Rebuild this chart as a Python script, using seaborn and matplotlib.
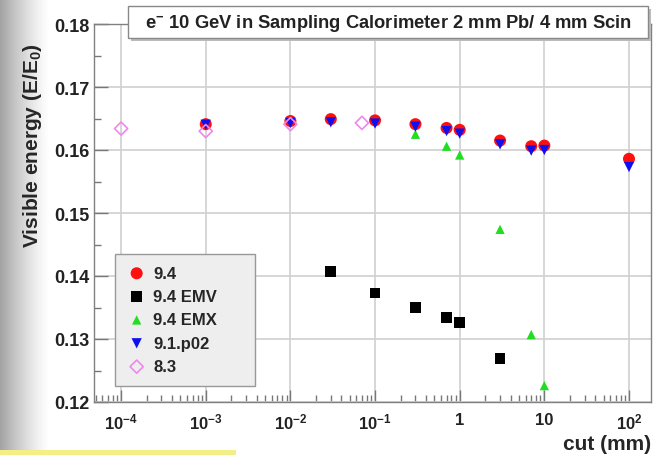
import numpy as np
import pandas as pd
import seaborn as sns
import matplotlib.pyplot as plt
from matplotlib.patches import Rectangle
from matplotlib.ticker import FixedLocator, FixedFormatter, LogLocator, NullFormatter, MultipleLocator

# --- data ---
cut_94 = [1e-3, 1e-2, 0.03, 0.1, 0.3, 0.7, 1, 3, 7, 10, 100]
e_94 = [0.1641, 0.1646, 0.1649, 0.1647, 0.1641, 0.1635, 0.1632, 0.1615, 0.1606, 0.1607, 0.1586]

cut_emv = [0.03, 0.1, 0.3, 0.7, 1, 3]
e_emv = [0.1407, 0.1373, 0.1350, 0.1334, 0.1326, 0.1269]

cut_emx = [0.3, 0.7, 1, 3, 7, 10]
e_emx = [0.1625, 0.1606, 0.1592, 0.1474, 0.1307, 0.1226]

cut_p02 = [1e-3, 1e-2, 0.03, 0.1, 0.3, 0.7, 1, 3, 7, 10, 100]
e_p02 = [0.1640, 0.1643, 0.1644, 0.1642, 0.1637, 0.1630, 0.1626, 0.1609, 0.1599, 0.1600, 0.1573]

cut_83 = [1e-4, 1e-3, 1e-2, 0.07]
e_83 = [0.1634, 0.1630, 0.1641, 0.1643]

series_names = ['9.4', '9.4 EMV', '9.4 EMX', '9.1.p02', '8.3']
x_ticks = [1e-4, 1e-3, 1e-2, 1e-1, 1, 10, 100]
x_tick_labels = [r'$\mathbf{10^{-4}}$', r'$\mathbf{10^{-3}}$', r'$\mathbf{10^{-2}}$',
                 r'$\mathbf{10^{-1}}$', '1', '10', r'$\mathbf{10^{2}}$']
title_text = r'e$^{\mathbf{-}}$ 10 GeV in Sampling Calorimeter 2 mm Pb/ 4 mm Scin'

sns.set_theme(style='whitegrid')
plt.rcParams['font.family'] = ['Liberation Sans', 'DejaVu Sans']
plt.rcParams['font.weight'] = 'bold'
plt.rcParams['mathtext.fontset'] = 'custom'
plt.rcParams['mathtext.rm'] = 'Liberation Sans:bold'
plt.rcParams['mathtext.bf'] = 'Liberation Sans:bold'
plt.rcParams['mathtext.it'] = 'Liberation Sans:bold'

W, H = 661, 456
fig = plt.figure(figsize=(W / 100, H / 100), dpi=100)
fig.patch.set_facecolor('white')

# screenshot background: grey fade on the left, yellow strip bottom-left
bg = fig.add_axes([0, 0, 1, 1], zorder=-10)
xs = np.arange(W)
fade = np.clip(1 - xs / 50.0, 0, 1) ** 1.3
img = 1 - 0.36 * fade
bg.imshow(np.tile(img, (H, 1)), cmap='gray', vmin=0, vmax=1, aspect='auto',
          extent=[0, 1, 0, 1])
bg.set_xlim(0, 1)
bg.set_ylim(0, 1)
bg.add_patch(Rectangle((0, 0), 236 / W, 5 / H, facecolor='#f3ef86', edgecolor='none'))
bg.axis('off')

ax = fig.add_axes([94 / W, 1 - 403 / H, (651 - 94) / W, (403 - 25) / H])
ax.set_facecolor('white')

df_94 = pd.DataFrame({'cut': cut_94, 'energy': e_94})
df_emv = pd.DataFrame({'cut': cut_emv, 'energy': e_emv})
df_emx = pd.DataFrame({'cut': cut_emx, 'energy': e_emx})
df_p02 = pd.DataFrame({'cut': cut_p02, 'energy': e_p02})
df_83 = pd.DataFrame({'cut': cut_83, 'energy': e_83})

sns.scatterplot(data=df_94, x='cut', y='energy', ax=ax, marker='o', s=75,
                color='#ff1010', edgecolor='none', label=series_names[0], zorder=3)
sns.scatterplot(data=df_emv, x='cut', y='energy', ax=ax, marker='s', s=60,
                color='black', edgecolor='none', label=series_names[1], zorder=3)
sns.scatterplot(data=df_emx, x='cut', y='energy', ax=ax, marker='^', s=45,
                color='#22dd22', edgecolor='none', label=series_names[2], zorder=3)
sns.scatterplot(data=df_p02, x='cut', y='energy', ax=ax, marker='v', s=55,
                color='#1010ee', edgecolor='none', label=series_names[3], zorder=3)
sns.scatterplot(data=df_83, x='cut', y='energy', ax=ax, marker='D', s=45,
                facecolor='none', edgecolor='#ee88ee', linewidth=1.2,
                label=series_names[4], zorder=3)

ax.set_xscale('log')
ax.set_xlim(10 ** -4.32, 10 ** 2.26)
ax.set_ylim(0.12, 0.18)

ax.xaxis.set_major_locator(FixedLocator(x_ticks))
ax.xaxis.set_major_formatter(FixedFormatter(x_tick_labels))
ax.xaxis.set_minor_locator(LogLocator(base=10, subs=np.arange(2, 10), numticks=20))
ax.xaxis.set_minor_formatter(NullFormatter())
ax.yaxis.set_major_locator(MultipleLocator(0.01))
ax.yaxis.set_minor_locator(MultipleLocator(0.005))
ax.yaxis.set_major_formatter(plt.FuncFormatter(lambda v, p: f'{v:.2f}'))

ax.tick_params(axis='both', which='both', direction='in', color='#777777',
               labelcolor='#222222')
ax.tick_params(axis='x', which='major', length=9, width=1, pad=7, labelsize=12,
               bottom=True, top=False)
ax.tick_params(axis='x', which='minor', length=5, width=1, bottom=True, top=False)
ax.tick_params(axis='y', which='major', length=10, width=1, pad=3, labelsize=13,
               left=True, right=False)
ax.tick_params(axis='y', which='minor', length=5, width=1, left=True, right=False)

ax.grid(True, which='major', color='#d0d0d0', linewidth=1.2)
ax.grid(False, which='minor')
for sp in ax.spines.values():
    sp.set_color('#808080')
    sp.set_linewidth(1.0)

ax.set_xlabel('cut (mm)', fontsize=15, fontweight='bold', loc='right', labelpad=2)
ax.set_ylabel(r'Visible energy (E/E$_{\mathbf{0}}$)', fontsize=15, fontweight='bold')
ax.yaxis.set_label_coords(-0.09, 0.68)

leg = ax.legend(loc='upper left', bbox_to_anchor=(115 / W, 1 - 380 / H, 140 / W, 125 / H),
                bbox_transform=fig.transFigure, mode='expand', borderaxespad=0,
                fontsize=12, frameon=True, fancybox=False, framealpha=1,
                facecolor='#eeeeee', edgecolor='#999999', labelspacing=0.5,
                handletextpad=0.4, handlelength=1.2, borderpad=0.7, markerscale=1.0)
leg.get_frame().set_linewidth(1.0)
leg.set_zorder(10)

# title box with a small shadow, on top of the frame
fig.patches.append(Rectangle((131 / W, 1 - 42 / H), (648 - 128) / W, 32 / H,
                             transform=fig.transFigure, facecolor='#bbbbbb',
                             edgecolor='none', zorder=5))
fig.patches.append(Rectangle((128 / W, 1 - 39 / H), (648 - 128) / W, 32 / H,
                             transform=fig.transFigure, facecolor='white',
                             edgecolor='#888888', linewidth=1.0, zorder=6))
fig.text(388 / W, 1 - 23 / H, title_text, ha='center', va='center', fontsize=13.2,
         fontweight='bold', color='#222222', zorder=7)

fig.savefig('out.png', dpi=100)
